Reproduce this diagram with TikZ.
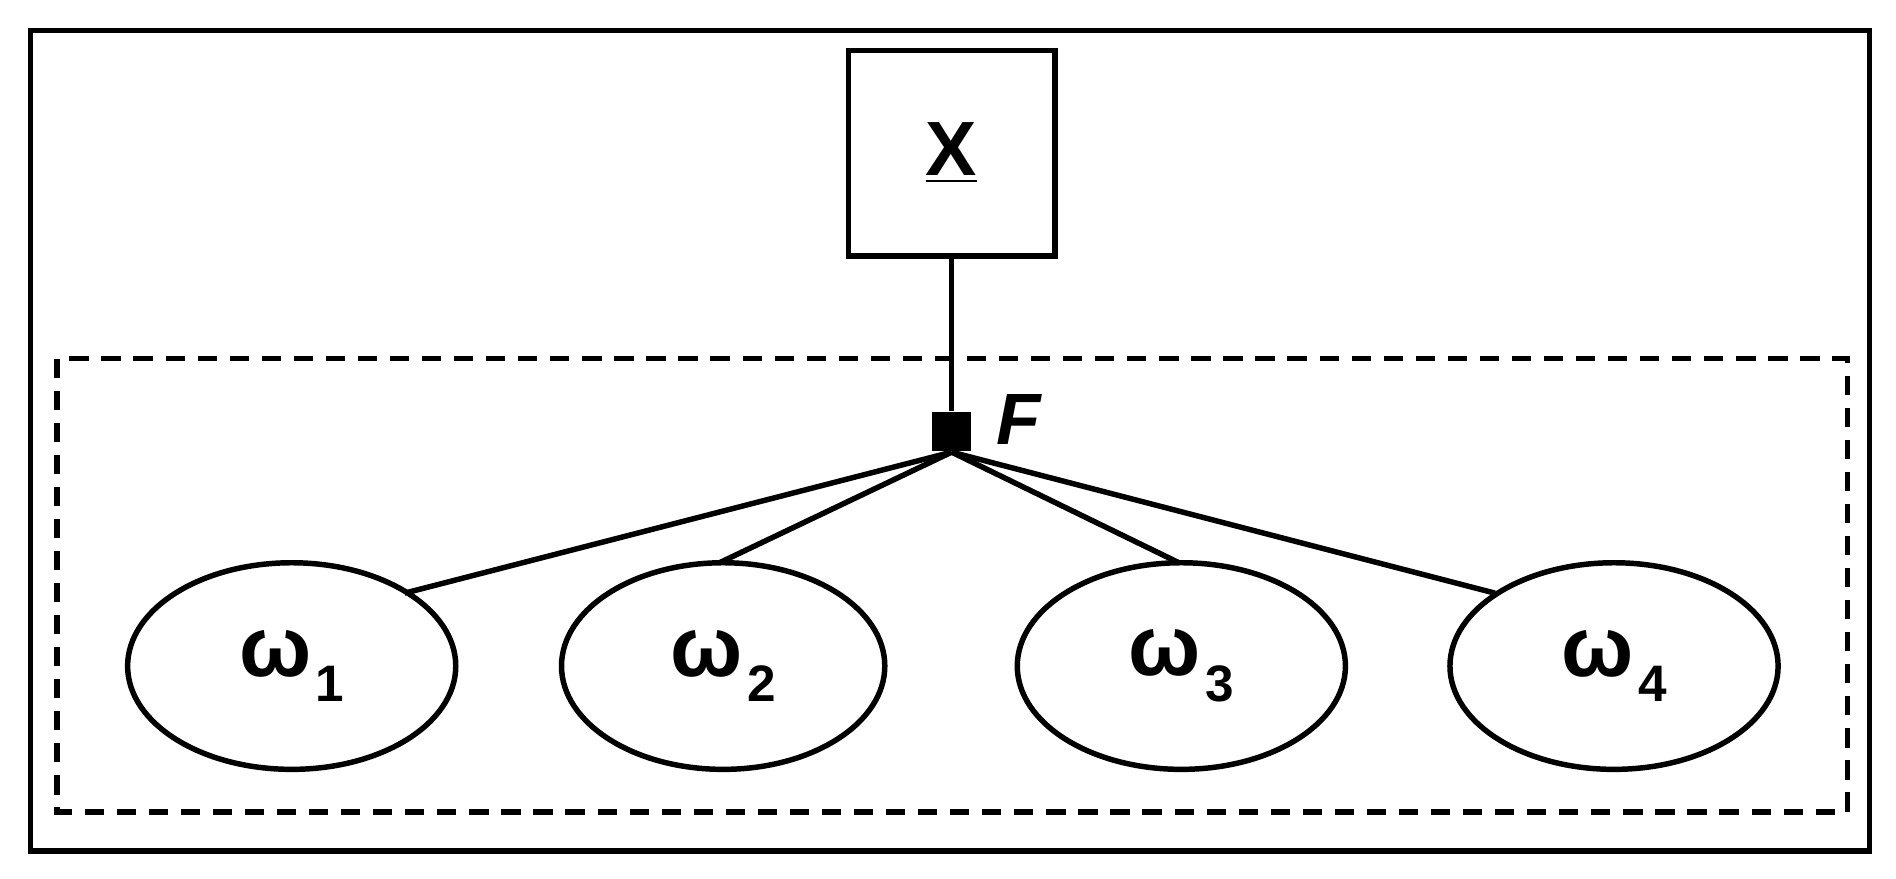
\documentclass[tikz,border=0pt]{standalone}
\usepackage{fontspec}
\setmainfont{Liberation Sans}
\begin{document}
\begin{tikzpicture}[x=0.01cm,y=-0.01cm,
  lw/.style={line width=0.045cm},
  lab/.style={font=\fontsize{20}{22}\selectfont\bfseries}]
\useasboundingbox (0,0) rectangle (1560,723);
\draw[lw] (25,25) rectangle (1538,700);
\draw[lw,dash pattern=on 4.5pt off 3pt] (47,295) rectangle (1520,668);
\node[lw,draw,minimum width=1.7cm,minimum height=1.69cm,font=\fontsize{18}{20}\selectfont\bfseries] (x) at (783,126) {\underline{X}};
\node[fill=black,minimum size=0.32cm,inner sep=0pt] (f) at (783,355) {};
\node[font=\fontsize{17}{20}\selectfont\itshape\bfseries] (fl) at (838,345) {F};
\foreach \i/\cx/\rx in {1/240/135,2/595/133,3/972/135,4/1328/135}{
  \draw[lw] (\cx,548) ellipse [x radius=\rx, y radius=85];
  \node[lab] (w\i) at (\cx,548) {ω\kern1pt\raisebox{-0.3em}{\fontsize{12}{14}\selectfont\bfseries\i}};
}
\coordinate (c) at (783,372);
\coordinate (e1) at (333,488);
\coordinate (e2) at (592,463);
\coordinate (e3) at (970,463);
\coordinate (e4) at (1230,488);
\draw[lw] (x.south) -- (f.north);
\foreach \i in {1,2,3,4} \draw[lw] (c) -- (e\i);
\end{tikzpicture}
\end{document}
